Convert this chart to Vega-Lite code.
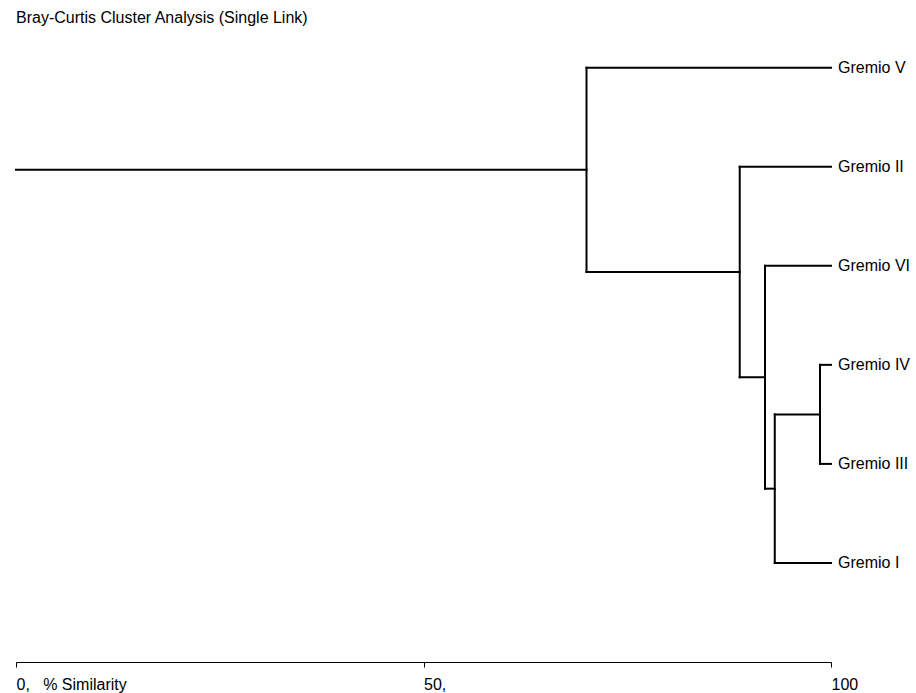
{
  "$schema": "https://vega.github.io/schema/vega-lite/v6.json",
  "width": 815,
  "height": 624,
  "autosize": {"type": "none"},
  "padding": {"left": 16, "top": 38, "right": 85, "bottom": 31},
  "background": "white",
  "title": {"text": "Bray-Curtis Cluster Analysis (Single Link)", "anchor": "start", "frame": "group", "font": "Liberation Sans", "fontSize": 16, "fontWeight": "normal", "color": "#000", "offset": 12},
  "config": {"view": {"stroke": null}},
  "datasets": {
    "segments": [
      {"x1": 0, "x2": 70.0, "y1": 1.03125, "y2": 1.03125},
      {"x1": 70.0, "x2": 70.0, "y1": 0, "y2": 2.0625},
      {"x1": 70.0, "x2": 100, "y1": 0, "y2": 0},
      {"x1": 70.0, "x2": 88.8, "y1": 2.0625, "y2": 2.0625},
      {"x1": 88.8, "x2": 88.8, "y1": 1, "y2": 3.125},
      {"x1": 88.8, "x2": 100, "y1": 1, "y2": 1},
      {"x1": 88.8, "x2": 91.9, "y1": 3.125, "y2": 3.125},
      {"x1": 91.9, "x2": 91.9, "y1": 2, "y2": 4.25},
      {"x1": 91.9, "x2": 100, "y1": 2, "y2": 2},
      {"x1": 91.9, "x2": 93.1, "y1": 4.25, "y2": 4.25},
      {"x1": 93.1, "x2": 93.1, "y1": 3.5, "y2": 5},
      {"x1": 93.1, "x2": 100, "y1": 5, "y2": 5},
      {"x1": 93.1, "x2": 98.65, "y1": 3.5, "y2": 3.5},
      {"x1": 98.65, "x2": 98.65, "y1": 3, "y2": 4},
      {"x1": 98.65, "x2": 100, "y1": 3, "y2": 3},
      {"x1": 98.65, "x2": 100, "y1": 4, "y2": 4}
    ],
    "leaves": [
      {"name": "Gremio V", "pos": 0, "sim": 100},
      {"name": "Gremio II", "pos": 1, "sim": 100},
      {"name": "Gremio VI", "pos": 2, "sim": 100},
      {"name": "Gremio IV", "pos": 3, "sim": 100},
      {"name": "Gremio III", "pos": 4, "sim": 100},
      {"name": "Gremio I", "pos": 5, "sim": 100}
    ]
  },
  "layer": [
    {
      "data": {"name": "segments"},
      "mark": {"type": "rule", "color": "#000", "strokeWidth": 2, "strokeCap": "square"},
      "encoding": {
        "x": {"field": "x1", "type": "quantitative", "scale": {"domain": [0, 100], "nice": false, "zero": false},
          "axis": {"values": [0, 50, 100], "title": null, "grid": false, "domainColor": "#000", "domainWidth": 1, "tickColor": "#000", "tickSize": 5, "labelAlign": "left", "labelFont": "Liberation Sans", "labelFontSize": 16, "labelColor": "#000", "labelPadding": 9, "labelFlush": false, "labelOverlap": false,
            "labelExpr": "datum.value == 0 ? '0,\u00a0\u00a0\u00a0% Similarity' : (datum.value == 50 ? '50,' : '100')"}},
        "x2": {"field": "x2"},
        "y": {"field": "y1", "type": "quantitative", "scale": {"domain": [-0.3, 6], "nice": false, "zero": false, "reverse": true}, "axis": null},
        "y2": {"field": "y2"}
      }
    },
    {
      "data": {"name": "leaves"},
      "mark": {"type": "text", "align": "left", "baseline": "middle", "dx": 7, "font": "Liberation Sans", "fontSize": 16, "color": "#000"},
      "encoding": {
        "x": {"field": "sim", "type": "quantitative"},
        "y": {"field": "pos", "type": "quantitative"},
        "text": {"field": "name"}
      }
    }
  ]
}
